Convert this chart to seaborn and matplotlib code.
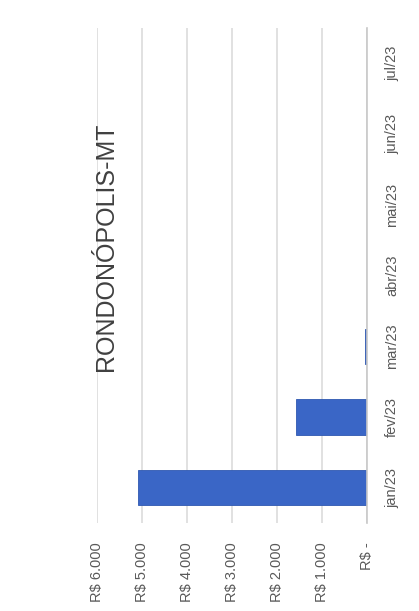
import matplotlib
matplotlib.use("Agg")
import matplotlib.pyplot as plt
import seaborn as sns
import pandas as pd

# data
months = ["jan/23", "fev/23", "mar/23", "abr/23", "mai/23", "jun/23", "jul/23"]
values = [5090, 1580, 40, 0, 0, 0, 0]
value_ticks = [0, 1000, 2000, 3000, 4000, 5000, 6000]
value_labels = ["R$ -", "R$ 1.000", "R$ 2.000", "R$ 3.000", "R$ 4.000", "R$ 5.000", "R$ 6.000"]
title = "RONDONÓPOLIS-MT"

sns.set_theme(style="white")
plt.rcParams["font.family"] = ["Liberation Sans", "DejaVu Sans"]

df = pd.DataFrame({"month": months, "value": values})

fig = plt.figure(figsize=(4.19, 6.11), dpi=100)
ax = fig.add_axes([97 / 419, (611 - 523) / 611, 270 / 419, 495 / 611])

# column chart turned on its side: jan at the bottom, values growing to the left
sns.barplot(data=df, x="value", y="month", order=months[::-1], color="#3a66c6",
            width=0.5, saturation=1, ax=ax, edgecolor="#2f58b0", linewidth=0.6)

ax.set_xlim(6000, 0)
ax.set_xticks(value_ticks)
ax.set_xticklabels(value_labels, rotation=90, va="top", ha="center")
ax.yaxis.tick_right()
ax.set_yticks(range(len(months)))
ax.set_yticklabels(months[::-1], rotation=90, va="center", ha="left")
ax.set_xlabel("")
ax.set_ylabel("")

ax.grid(axis="x", color="#dcdcdc", linewidth=1.2)
ax.set_axisbelow(True)
for side in ["top", "bottom", "left"]:
    ax.spines[side].set_visible(False)
ax.spines["right"].set_color("#c8c8c8")
ax.spines["right"].set_linewidth(1.2)

ax.tick_params(axis="x", length=0, pad=14, labelsize=10.5, labelcolor="#595959")
ax.tick_params(axis="y", length=0, pad=13, labelsize=10.5, labelcolor="#595959")

fig.text(106 / 419, 1 - 247 / 611, title, rotation=90, ha="center", va="center",
         fontsize=18, color="#404040")

fig.savefig("out.png", dpi=100, facecolor="white")
